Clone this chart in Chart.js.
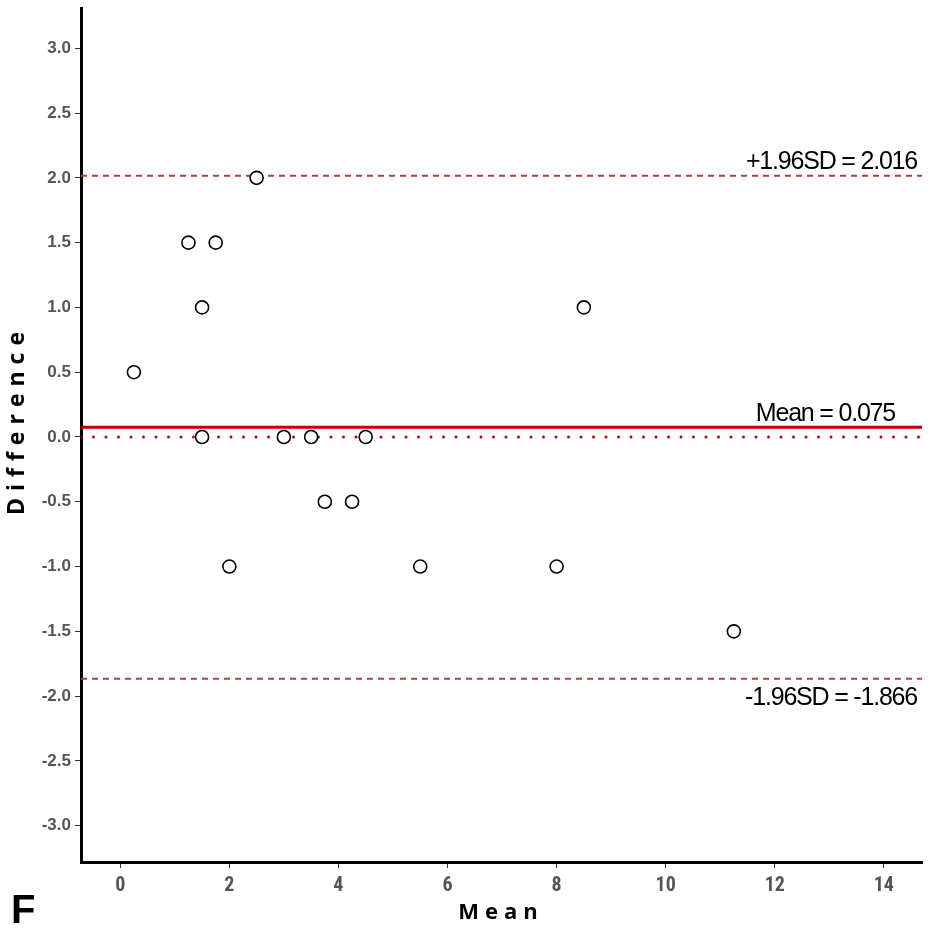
<!DOCTYPE html>
<html>
<head>
<meta charset="utf-8">
<script src="https://cdn.jsdelivr.net/npm/chart.js@4.4.1/dist/chart.umd.min.js"></script>
<style>
  html, body { margin: 0; padding: 0; background: #fff; }
  #wrap { width: 933px; height: 928px; }
</style>
</head>
<body>
<div id="wrap"><canvas id="baChart" width="933" height="928"></canvas></div>
<script>
// Bland-Altman data: mean of the two measurements vs their difference
const meanValues = [0.25, 1.25, 1.75, 1.5, 2.5, 1.5, 3.0, 3.5, 4.5, 3.75, 4.25, 2.0, 5.5, 8.0, 8.5, 11.25];
const diffValues = [0.5, 1.5, 1.5, 1.0, 2.0, 0.0, 0.0, 0.0, 0.0, -0.5, -0.5, -1.0, -1.0, -1.0, 1.0, -1.5];

const meanDiff = 0.075;
const upperLoA = 2.016;
const lowerLoA = -1.866;

const xRange = [-0.72, 14.7];
const yRange = [-3.28, 3.31];

const lineRed = '#c00000';
const dashRed = '#b83c3e';

function hLine(y) {
  return [{ x: xRange[0], y: y }, { x: xRange[1], y: y }];
}

const labelPlugin = {
  id: 'baLabels',
  afterDatasetsDraw(chart) {
    const ctx = chart.ctx;
    const y = chart.scales.y;
    ctx.save();
    ctx.fillStyle = '#000';
    ctx.font = '25px "Liberation Sans", Arial, sans-serif';
    ctx.letterSpacing = '-1.2px';
    ctx.textAlign = 'right';
    ctx.textBaseline = 'alphabetic';
    ctx.fillText('+1.96SD = 2.016', 917, y.getPixelForValue(upperLoA) - 7);
    ctx.fillText('Mean = 0.075', 895, y.getPixelForValue(meanDiff) - 6);
    ctx.fillText('-1.96SD = -1.866', 917, y.getPixelForValue(lowerLoA) + 26);
    ctx.restore();
  },
  afterDraw(chart) {
    const ctx = chart.ctx;
    ctx.save();
    ctx.fillStyle = '#000';
    ctx.textAlign = 'center';
    ctx.textBaseline = 'middle';
    ctx.font = 'bold 22px "Open Sans", sans-serif';
    ctx.letterSpacing = '6px';
    ctx.fillText('Mean', 501, 913);
    ctx.translate(17, 423);
    ctx.rotate(-Math.PI / 2);
    ctx.font = 'bold 23px "Open Sans", sans-serif';
    ctx.letterSpacing = '7px';
    ctx.fillText('Difference', 3, 0);
    ctx.restore();

    ctx.save();
    ctx.fillStyle = '#000';
    ctx.font = 'bold 40px "Liberation Sans", Arial, sans-serif';
    ctx.textBaseline = 'alphabetic';
    ctx.fillText('F', 11, 923);
    ctx.restore();
  }
};

new Chart(document.getElementById('baChart'), {
  type: 'scatter',
  data: {
    datasets: [
      {
        label: 'Observations',
        data: meanValues.map((m, i) => ({ x: m, y: diffValues[i] })),
        pointRadius: 6.5,
        pointBorderWidth: 1.6,
        pointBorderColor: '#000',
        pointBackgroundColor: '#fff',
        order: 0
      },
      {
        type: 'line',
        label: '+1.96SD',
        data: hLine(upperLoA),
        borderColor: dashRed,
        borderWidth: 2,
        borderDash: [6, 5],
        pointRadius: 0,
        order: 1
      },
      {
        type: 'line',
        label: 'Mean',
        data: hLine(meanDiff),
        borderColor: lineRed,
        borderWidth: 3,
        pointRadius: 0,
        order: 1
      },
      {
        type: 'line',
        label: 'Zero',
        data: hLine(0),
        borderColor: lineRed,
        borderWidth: 3,
        borderDash: [0, 12.5],
        borderCapStyle: 'round',
        pointRadius: 0,
        order: 1
      },
      {
        type: 'line',
        label: '-1.96SD',
        data: hLine(lowerLoA),
        borderColor: dashRed,
        borderWidth: 2,
        borderDash: [6, 5],
        pointRadius: 0,
        order: 1
      }
    ]
  },
  options: {
    responsive: false,
    animation: false,
    layout: { padding: { top: 8, right: 11, left: 0, bottom: 0 } },
    plugins: {
      legend: { display: false },
      tooltip: { enabled: false }
    },
    scales: {
      x: {
        type: 'linear',
        min: xRange[0],
        max: xRange[1],
        afterFit: s => { s.height = 66; s.paddingLeft = 0; s.paddingRight = 0; },
        border: { color: '#000', width: 3 },
        grid: { drawOnChartArea: false, tickLength: 6, color: '#333', lineWidth: 1 },
        ticks: {
          stepSize: 2,
          includeBounds: false,
          padding: 6,
          color: '#555',
          font: { family: '"Liberation Sans Narrow", "Roboto Condensed", "Liberation Sans", sans-serif', size: 20, weight: 'bold' }
        }
      },
      y: {
        type: 'linear',
        min: yRange[0],
        max: yRange[1],
        afterFit: s => { s.width = 81; s.paddingTop = 0; s.paddingBottom = 0; },
        border: { color: '#000', width: 3 },
        grid: { drawOnChartArea: false, tickLength: 6, color: '#333', lineWidth: 1 },
        ticks: {
          stepSize: 0.5,
          includeBounds: false,
          padding: 4,
          color: '#555',
          callback: v => v.toFixed(1),
          font: { family: '"Liberation Sans", Arial, sans-serif', size: 17, weight: 'bold' }
        }
      }
    }
  },
  plugins: [labelPlugin]
});
</script>
</body>
</html>
